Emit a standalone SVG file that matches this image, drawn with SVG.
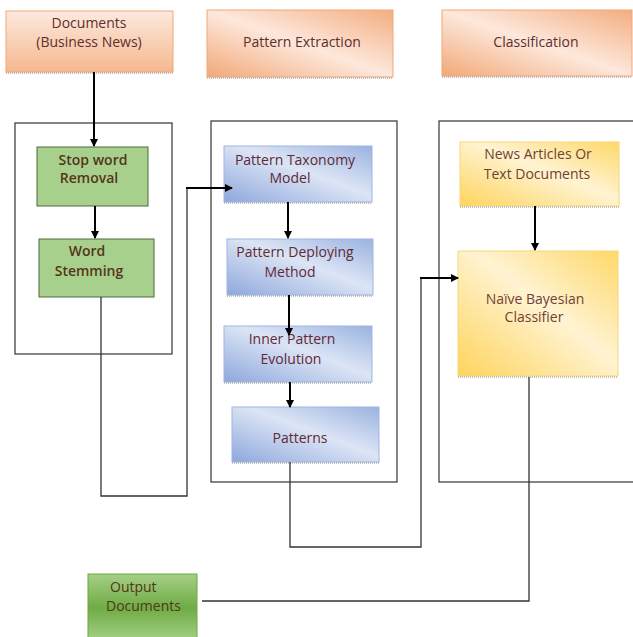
<svg xmlns="http://www.w3.org/2000/svg" width="633" height="637" viewBox="0 0 633 637">
<defs>
<linearGradient id="gPeach" x1="0" y1="1" x2="1" y2="0">
<stop offset="0" stop-color="#f2a877"/>
<stop offset="0.5" stop-color="#fde8dc"/>
<stop offset="1" stop-color="#f3ad80"/>
</linearGradient>
<linearGradient id="gPeachV" x1="0" y1="0" x2="0" y2="1">
<stop offset="0" stop-color="#fde9de"/>
<stop offset="1" stop-color="#f5b88f"/>
</linearGradient>
<linearGradient id="gBlue" x1="0" y1="1" x2="1" y2="0">
<stop offset="0" stop-color="#8ea7dc"/>
<stop offset="0.55" stop-color="#dce5f5"/>
<stop offset="1" stop-color="#9ab2e0"/>
</linearGradient>
<linearGradient id="gYellow" x1="0" y1="1" x2="1" y2="0">
<stop offset="0" stop-color="#fed45c"/>
<stop offset="0.55" stop-color="#fff3d2"/>
<stop offset="1" stop-color="#fed868"/>
</linearGradient>
<linearGradient id="gOut" x1="0" y1="0" x2="0" y2="1">
<stop offset="0" stop-color="#a5cf86"/>
<stop offset="0.5" stop-color="#6fac45"/>
<stop offset="1" stop-color="#a8d28a"/>
</linearGradient>
<marker id="ah" markerWidth="8" markerHeight="8" refX="7" refY="4" orient="auto" markerUnits="userSpaceOnUse">
<path d="M0,0 L8,4 L0,8 Z" fill="#000"/>
</marker>
</defs>
<style>
text{font-family:"Open Sans","Liberation Sans",sans-serif;font-size:14px;text-anchor:middle}
.hdr rect{fill:url(#gPeach);stroke:#f0a77a;stroke-width:1}
.hdr text{fill:#5e2e2e}
.grn rect{fill:#a7d08c;stroke:#4e6b3b;stroke-width:1}
.grn text{fill:#55351b;font-weight:600}
.blu rect{fill:url(#gBlue);stroke:#9fb6e2;stroke-width:1}
.blu text{fill:#612936}
.yel rect{fill:url(#gYellow);stroke:#f6d77a;stroke-width:1}
.yel text{fill:#704234}
.out rect{fill:url(#gOut);stroke:#6aa845;stroke-width:1}
.out text{fill:#553617;text-anchor:start}
.shadow{stroke:#8a8a8a;stroke-width:1.2;stroke-dasharray:1 1}
.cont{fill:none;stroke:#333;stroke-width:1.2}
.arr{fill:none;stroke:#000;stroke-width:2;marker-end:url(#ah)}
.ln{fill:none;stroke:#333;stroke-width:1.3}
</style>

<g id="containers">
<rect class="cont" x="15" y="123" width="157" height="231"/>
<rect class="cont" x="211" y="121" width="186" height="361"/>
<rect class="cont" x="439" y="121" width="210" height="361"/>
</g>

<g id="documents" class="hdr">
<rect x="6" y="11" width="167" height="61" style="fill:url(#gPeachV)"/>
<line class="shadow" x1="6" y1="73" x2="173" y2="73"/>
<text x="89" y="28">Documents</text>
<text x="89" y="47">(Business News)</text>
</g>
<g id="pattern-extraction" class="hdr">
<rect x="207" y="10" width="186" height="67"/>
<line class="shadow" x1="207" y1="78" x2="393" y2="78"/>
<text x="302" y="47">Pattern Extraction</text>
</g>
<g id="classification" class="hdr">
<rect x="442" y="10" width="190" height="66"/>
<line class="shadow" x1="442" y1="77" x2="632" y2="77"/>
<text x="536" y="47">Classification</text>
</g>

<g id="stop-word-removal" class="grn">
<rect x="37" y="147" width="111" height="59"/>
<text x="93" y="165">Stop word</text>
<text x="89" y="183">Removal</text>
</g>
<g id="word-stemming" class="grn">
<rect x="39" y="239" width="115" height="58"/>
<text x="87" y="256">Word</text>
<text x="89" y="276">Stemming</text>
</g>

<g id="pattern-taxonomy-model" class="blu">
<rect x="224" y="146" width="148" height="56"/>
<line class="shadow" x1="224" y1="203" x2="372" y2="203"/>
<text x="295" y="165">Pattern Taxonomy</text>
<text x="290" y="183">Model</text>
</g>
<g id="pattern-deploying-method" class="blu">
<rect x="227" y="239" width="146" height="56"/>
<line class="shadow" x1="227" y1="296" x2="373" y2="296"/>
<text x="295" y="257">Pattern Deploying</text>
<text x="290" y="277">Method</text>
</g>
<g id="inner-pattern-evolution" class="blu">
<rect x="224" y="326" width="148" height="56"/>
<line class="shadow" x1="224" y1="383" x2="372" y2="383"/>
<text x="292" y="344">Inner Pattern</text>
<text x="291" y="364">Evolution</text>
</g>
<g id="patterns" class="blu">
<rect x="232" y="407" width="147" height="55"/>
<line class="shadow" x1="232" y1="463" x2="379" y2="463"/>
<text x="300" y="443">Patterns</text>
</g>

<g id="news-articles" class="yel">
<rect x="460" y="142" width="159" height="64"/>
<line class="shadow" x1="460" y1="207" x2="619" y2="207"/>
<text x="538" y="159">News Articles Or</text>
<text x="537" y="179">Text Documents</text>
</g>
<g id="naive-bayesian-classifier" class="yel">
<rect x="458" y="251" width="160" height="125"/>
<line class="shadow" x1="458" y1="377" x2="618" y2="377"/>
<text x="535" y="304">Naïve Bayesian</text>
<text x="534" y="322">Classifier</text>
</g>

<g id="output-documents" class="out">
<rect x="88" y="574" width="109" height="68"/>
<text x="110" y="592">Output</text>
<text x="106" y="611">Documents</text>
</g>

<g id="connectors">
<path class="arr" d="M94,72 V146"/>
<path class="arr" d="M95,206 V238"/>
<path class="ln" d="M101,297 V496 H187 V188"/>
<path class="arr" d="M186,188 H232"/>
<path class="arr" d="M288,202 V238"/>
<path class="arr" d="M289,295 V335"/>
<path class="arr" d="M290,382 V407"/>
<path class="ln" d="M290,462 V547 H421 V278"/>
<path class="arr" d="M420,278 H458"/>
<path class="arr" d="M535,206 V250"/>
<path class="ln" d="M529,377 V601 H202"/>
</g>
</svg>
